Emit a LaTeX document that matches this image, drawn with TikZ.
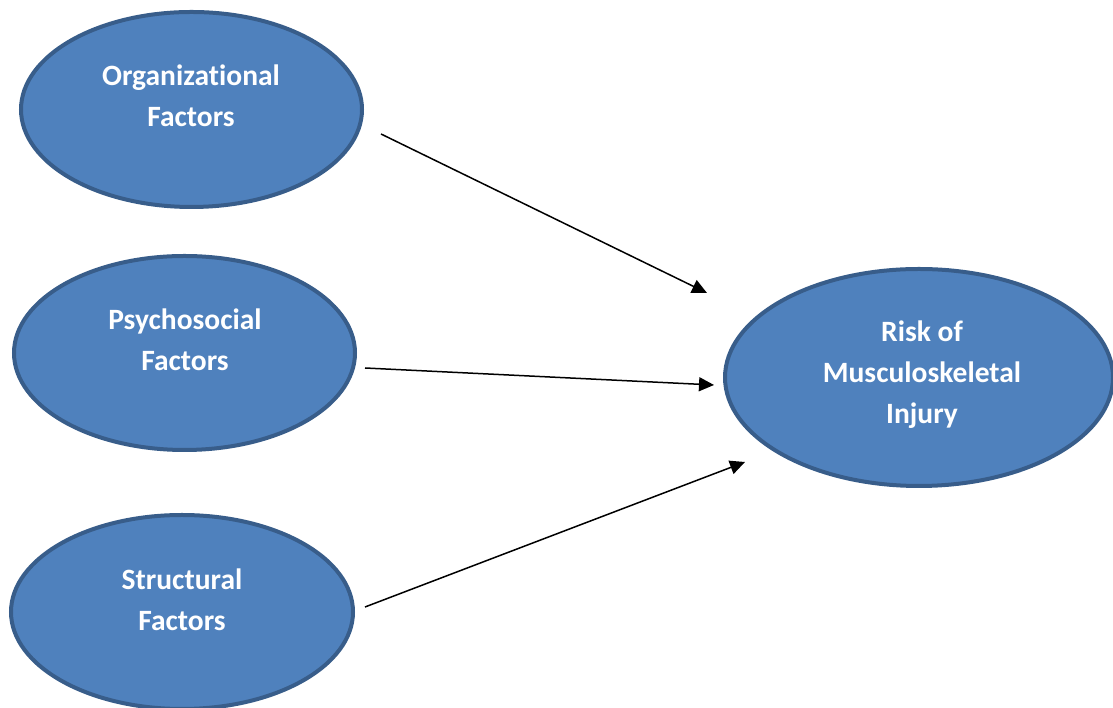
\documentclass[tikz,border=0pt]{standalone}
\usepackage{fontspec}
\setmainfont[Ligatures=NoCommon]{Carlito}
\usetikzlibrary{arrows.meta,shapes.geometric}
\definecolor{efill}{HTML}{4F81BD}
\definecolor{eline}{HTML}{385D8A}
\tikzset{
  blob/.style={ellipse, draw=eline, fill=efill, line width=4pt, inner sep=0pt},
  lbl/.style={text=white, font=\fontsize{29.5}{41}\selectfont\bfseries, align=center, inner sep=0pt},
  conn/.style={line width=1.5pt, -{Triangle[length=15pt,width=14pt]}}
}
\begin{document}
\begin{tikzpicture}[x=1pt,y=1pt]
\useasboundingbox (0,0) rectangle (1113,708);
\node[blob, minimum width=341pt, minimum height=195pt] (org) at (191.5,598.5) {};
\node[blob, minimum width=341pt, minimum height=194pt] (psy) at (184.5,355) {};
\node[blob, minimum width=342pt, minimum height=194pt] (str) at (182,96) {};
\node[blob, minimum width=388pt, minimum height=217pt] (risk) at (919,330.5) {};
\node[lbl] (orgt) at (191,612.5) {Organizational\\Factors};
\node[lbl] (psyt) at (185,368) {Psychosocial\\Factors};
\node[lbl] (strt) at (182,108) {Structural\\Factors};
\node[lbl] (riskt) at (922,333) {Risk of\\Musculoskeletal\\Injury};
\coordinate (a1) at (381,574);
\coordinate (b1) at (707,415);
\coordinate (a2) at (365,340);
\coordinate (b2) at (714,323);
\coordinate (a3) at (365,101);
\coordinate (b3) at (745,246);
\draw[conn] (a1) -- (b1);
\draw[conn] (a2) -- (b2);
\draw[conn] (a3) -- (b3);
\end{tikzpicture}
\end{document}
